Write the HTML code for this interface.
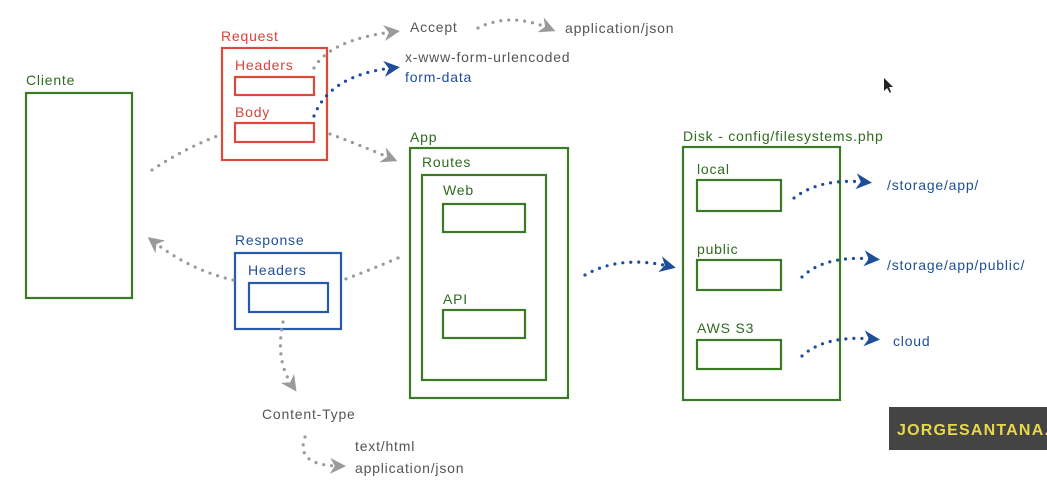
<!DOCTYPE html>
<html><head><meta charset="utf-8"><style>
html,body{margin:0;padding:0;background:#fff;}
svg{display:block;}
text{font-family:"Liberation Sans",sans-serif;font-size:14px;letter-spacing:0.8px;}
.g{fill:#2f6b1f}.r{fill:#d9443a}.b{fill:#1e4e9a}.k{fill:#555}
.gb{fill:none;stroke:#3b7a25;stroke-width:2.2}
.rb{fill:none;stroke:#dd4a3c;stroke-width:2.2}
.bb{fill:none;stroke:#275aa8;stroke-width:2.2}
.dg{fill:none;stroke:#9a9a9a;stroke-width:3.2;stroke-linecap:round;stroke-dasharray:0 8}
.db{fill:none;stroke:#1e4e9a;stroke-width:3.2;stroke-linecap:round;stroke-dasharray:0 8}
</style></head><body>
<svg width="1047" height="497" viewBox="0 0 1047 497">
<defs>
<marker id="ag" viewBox="0 0 10 10" refX="5" refY="5" markerWidth="5" markerHeight="5" orient="auto"><path d="M0,0 L10,5 L0,10 L3,5z" fill="#9a9a9a"/></marker>
<marker id="ab" viewBox="0 0 10 10" refX="5" refY="5" markerWidth="5" markerHeight="5" orient="auto"><path d="M0,0 L10,5 L0,10 L3,5z" fill="#1e4e9a"/></marker>
</defs>
<text x="26" y="85" class="g">Cliente</text>
<rect x="26" y="93" width="106" height="205" class="gb"/>
<text x="221" y="41" class="r">Request</text>
<rect x="222" y="48" width="105" height="112" class="rb"/>
<text x="235" y="70" class="r">Headers</text>
<rect x="235" y="77" width="79" height="18" class="rb"/>
<text x="235" y="117" class="r">Body</text>
<rect x="235" y="123" width="79" height="19" class="rb"/>
<text x="410" y="32" class="k">Accept</text>
<text x="565" y="33" class="k">application/json</text>
<text x="405" y="62" class="k">x-www-form-urlencoded</text>
<text x="405" y="82" class="b">form-data</text>
<text x="410" y="142" class="g">App</text>
<rect x="410" y="148" width="158" height="250" class="gb"/>
<text x="422" y="167" class="g">Routes</text>
<rect x="422" y="175" width="124" height="205" class="gb"/>
<text x="443" y="195" class="g">Web</text>
<rect x="443" y="204" width="82" height="28" class="gb"/>
<text x="443" y="304" class="g">API</text>
<rect x="443" y="310" width="82" height="28" class="gb"/>
<text x="235" y="245" class="b">Response</text>
<rect x="235" y="253" width="106" height="76" class="bb"/>
<text x="248" y="275" class="b">Headers</text>
<rect x="249" y="283" width="79" height="29" class="bb"/>
<text x="262" y="419" class="k">Content-Type</text>
<text x="355" y="451" class="k">text/html</text>
<text x="355" y="473" class="k">application/json</text>
<text x="683" y="141" class="g">Disk - config/filesystems.php</text>
<rect x="683" y="147" width="157" height="253" class="gb"/>
<text x="697" y="174" class="g">local</text>
<rect x="697" y="180" width="84" height="31" class="gb"/>
<text x="697" y="254" class="g">public</text>
<rect x="697" y="260" width="84" height="30" class="gb"/>
<text x="697" y="333" class="g">AWS S3</text>
<rect x="697" y="340" width="84" height="29" class="gb"/>
<text x="887" y="190" class="b">/storage/app/</text>
<text x="887" y="270" class="b">/storage/app/public/</text>
<text x="893" y="346" class="b">cloud</text>
<rect x="889" y="407" width="158" height="43" fill="#444"/>
<text x="897" y="435" style="font-size:16px;letter-spacing:1.2px;font-weight:bold" fill="#e8d84a">JORGESANTANA.N</text>
<path d="M152,170 Q185,148 220,135" class="dg"/>
<path d="M330,134 Q360,145 390,158" class="dg" marker-end="url(#ag)"/>
<path d="M314,68 Q330,40 392,32" class="dg" marker-end="url(#ag)"/>
<path d="M478,28 Q510,12 548,28" class="dg" marker-end="url(#ag)"/>
<path d="M314,116 Q330,75 392,68" class="db" marker-end="url(#ab)"/>
<path d="M398,258 Q370,270 343,280" class="dg"/>
<path d="M233,280 Q190,270 154,242" class="dg" marker-end="url(#ag)"/>
<path d="M283,322 Q275,360 292,385" class="dg" marker-end="url(#ag)"/>
<path d="M305,437 Q295,465 338,466" class="dg" marker-end="url(#ag)"/>
<path d="M585,275 Q620,255 668,266" class="db" marker-end="url(#ab)"/>
<path d="M794,198 Q820,178 864,182" class="db" marker-end="url(#ab)"/>
<path d="M802,277 Q825,255 872,259" class="db" marker-end="url(#ab)"/>
<path d="M802,356 Q825,335 872,339" class="db" marker-end="url(#ab)"/>
<path d="M884,78 L884,91 L887,88 L890,93 L891,92 L889,87 L893,87z" fill="#222"/>
</svg>
</body></html>
